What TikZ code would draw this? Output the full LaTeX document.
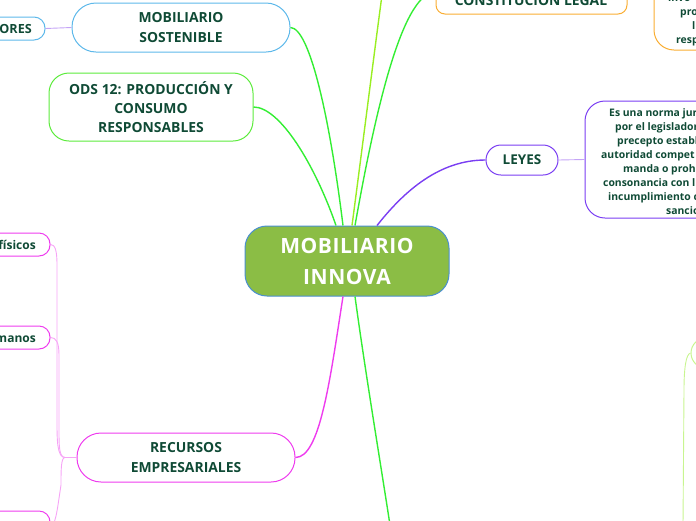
\documentclass[tikz,border=0pt]{standalone}
\usepackage{fontspec}
\setmainfont{Open Sans}
\definecolor{txt}{HTML}{0F4A35}
\definecolor{cfill}{HTML}{8BBD45}
\definecolor{cbord}{HTML}{4A8FD0}
\definecolor{sky}{HTML}{5DB8EA}
\definecolor{odsg}{HTML}{5CEB3C}
\definecolor{cgreen}{HTML}{33EE33}
\definecolor{ygreen}{HTML}{99EE22}
\definecolor{corange}{HTML}{F9AD32}
\definecolor{cpurple}{HTML}{7A3EF2}
\definecolor{lpurple}{HTML}{C4A4F6}
\definecolor{cmag}{HTML}{EE3CEE}
\definecolor{lmag}{HTML}{F6A4F6}
\definecolor{pale}{HTML}{C8F590}
\begin{document}
\begin{tikzpicture}[x=1pt,y=-1pt,
  box/.style={draw, line width=1pt, text=txt, align=center, inner sep=0pt,
    font=\bfseries\fontsize{13.9}{20}\selectfont},
  lbl/.style={text=txt, inner sep=0pt, font=\bfseries\fontsize{12}{20}\selectfont},
  small/.style={text=txt, inner sep=0pt, anchor=base west, font=\bfseries\fontsize{10.4}{14}\selectfont},
  main/.style={line width=1.4pt},
  sub/.style={line width=0.9pt}]
\useasboundingbox (0,0) rectangle (696,520);

% central
\node[draw=cbord, fill=cfill, rounded corners=22pt, minimum width=204pt, minimum height=70pt,
  line width=1pt, text=white, align=center, inner sep=0pt,
  font=\bfseries\fontsize{21}{31}\selectfont\addfontfeatures{LetterSpace=2.5}] (c) at (347,261) {MOBILIARIO\\INNOVA};

% left top
\node[box, draw=sky, rounded corners=24pt, minimum width=218pt, minimum height=49pt] (sos) at (181,27.5) {MOBILIARIO\\SOSTENIBLE};
\node[box, draw=sky, rounded corners=11pt, minimum width=75pt, minimum height=23pt] (ores) at (7.5,28.5) {};
\node[lbl, anchor=base east, font=\bfseries\fontsize{12.6}{20}\selectfont] (tores) at (32,33) {ORES};
\node[box, draw=odsg, rounded corners=20pt, minimum width=204pt, minimum height=68pt, font=\bfseries\fontsize{13.9}{19}\selectfont] (ods) at (151,107) {ODS 12: PRODUCCIÓN Y\\CONSUMO\\RESPONSABLES};

% top right
\node[box, draw=corange, rounded corners=9pt, minimum width=191pt, minimum height=44pt] (k) at (531.5,-8) {};
\node[lbl, anchor=base, font=\bfseries\fontsize{13.9}{20}\selectfont] (tk) at (531,5) {CONSTITUCIÓN LEGAL};
\draw[corange, line width=1pt, rounded corners=20pt] (654,-60) rectangle (780,50);
\node[small] (o1) at (668,1.5) {invo};
\node[small] (o2) at (680,15.5) {pro};
\node[small] (o3) at (692,29.5) {l};
\node[small] (o4) at (676,43.5) {resp};

% leyes
\node[box, draw=cpurple, rounded corners=15pt, minimum width=72pt, minimum height=30pt, font=\bfseries\fontsize{13.5}{16}\selectfont] (ley) at (522,160) {LEYES};
\node[draw=cpurple, line width=1pt, rounded corners=20pt, minimum width=215pt, minimum height=117pt, inner sep=0pt] (desc) at (692.5,159.5) {};
\node[small] (d1) at (609,116.5) {Es una norma jur};
\node[small] (d2) at (615,130.5) {por el legislador};
\node[small] (d3) at (617,144.5) {precepto establ};
\node[small] (d4) at (601,158.5) {autoridad compet};
\node[small] (d5) at (623,172.5) {manda o prohi};
\node[small] (d6) at (603,186.5) {consonancia con l};
\node[small] (d7) at (608,200.5) {incumplimiento c};
\node[small] (d8) at (666,214.5) {sancio};

% recursos
\node[box, draw=cmag, rounded corners=24pt, minimum width=218pt, minimum height=49pt] (rec) at (186,457.5) {RECURSOS\\EMPRESARIALES};
\node[box, draw=cmag, rounded corners=11pt, minimum width=80pt, minimum height=23pt] (fis) at (10,244.5) {};
\node[lbl, anchor=base east] (tfis) at (36,249) {físicos};
\node[box, draw=cmag, rounded corners=11pt, minimum width=80pt, minimum height=23pt] (hum) at (10,337.5) {};
\node[lbl, anchor=base east] (thum) at (36,342) {manos};
\node[box, draw=cmag, rounded corners=11pt, minimum width=80pt, minimum height=30pt] (bl) at (10,526) {};

% right pale node
\node[draw=pale, line width=1pt, rounded corners=15pt, minimum width=100pt, minimum height=30pt] (pn) at (741,353) {};

% coordinates for free ends
\coordinate (topY) at (382,-5);
\coordinate (botG) at (390,525);
\coordinate (jn) at (65,457.5);
\coordinate (pbot) at (683,525);

% main connectors
\draw[cgreen, main] ([xshift=-4pt]c.north) .. controls (330,120) and (310,28) .. (sos.east);
\draw[cgreen, main] ([xshift=-11pt]c.north) .. controls (315,165) and (280,107) .. (ods.east);
\draw[ygreen, main] ([xshift=5pt]c.north) .. controls (362,150) and (372,70) .. (topY);
\draw[cgreen, main] ([xshift=8pt]c.north) .. controls (372,130) and (400,-8) .. (k.west);
\draw[cpurple, main] ([xshift=30pt]c.north) .. controls (405,190) and (440,160) .. (ley.west);
\draw[cmag, main] ([xshift=-4pt]c.south) .. controls (330,380) and (320,457.5) .. (rec.east);
\draw[cgreen, main] ([xshift=8pt]c.south) .. controls (365,370) and (380,460) .. (botG);

% sub connectors
\draw[lpurple, sub] (ores.east) -- (sos.west);
\draw[lpurple, sub] (ley.east) -- (desc.west);
\draw[lmag, sub] (rec.west) -- (jn);
\draw[lmag, sub] (jn) .. controls (57,457.5) and (57,440) .. (57,420) -- (57,265) .. controls (57,250) and (55,244.5) .. (fis.east);
\draw[lmag, sub] (jn) .. controls (59,457.5) and (59,445) .. (59,430) -- (59,355) .. controls (59,342) and (56,337.5) .. (hum.east);
\draw[lmag, sub] (jn) .. controls (61,457.5) and (61,470) .. (61,485) -- (58,505) .. controls (56,518) and (54,526) .. (bl.east);
\draw[pale, sub] (pn.west) .. controls (686,354) and (684,368) .. (684,390) -- (pbot);
\end{tikzpicture}
\end{document}
